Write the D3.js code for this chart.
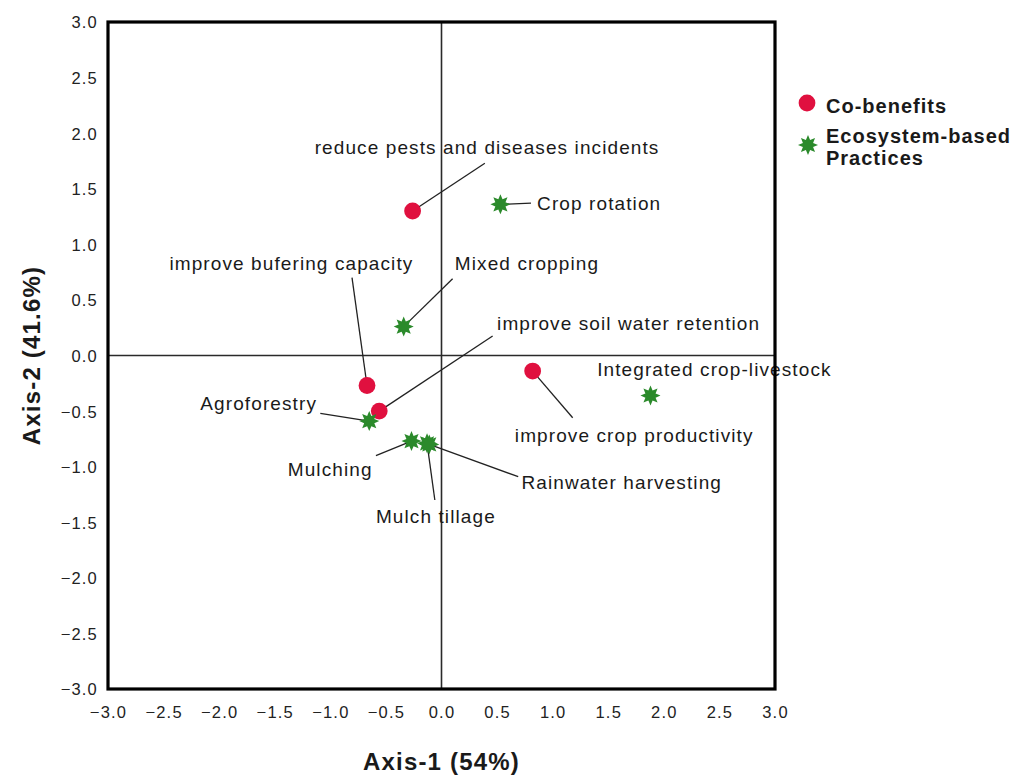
<!DOCTYPE html>
<html>
<head>
<meta charset="utf-8">
<script src="https://cdn.jsdelivr.net/npm/d3@7"></script>
<style>
  html, body { margin: 0; padding: 0; background: #fff; }
  svg { display: block; font-family: "Liberation Sans", Arial, sans-serif; }
  .tick-label { font-size: 16.5px; letter-spacing: 1.2px; fill: #222; }
  .pt-label { font-size: 19px; letter-spacing: 1.1px; fill: #1a1a1a; }
  .axis-title { font-size: 24px; font-weight: bold; letter-spacing: 1.2px; fill: #1a1a1a; }
  .legend-label { font-size: 20px; font-weight: bold; letter-spacing: 1px; fill: #1a1a1a; }
</style>
</head>
<body>
<svg id="chart" width="1015" height="776"></svg>
<script>
// Correspondence analysis: co-benefits vs ecosystem-based practices
const coBenefitNames = [
  "reduce pests and diseases incidents",
  "improve bufering capacity",
  "improve soil water retention",
  "improve crop productivity"
];
const coBenefitAxis1 = [-0.26, -0.67, -0.56, 0.82];
const coBenefitAxis2 = [1.30, -0.27, -0.50, -0.14];

const practiceNames = [
  "Crop rotation",
  "Mixed cropping",
  "Agroforestry",
  "Mulching",
  "Mulch tillage",
  "Rainwater harvesting",
  "Integrated crop-livestock"
];
const practiceAxis1 = [0.53, -0.34, -0.65, -0.27, -0.13, -0.11, 1.88];
const practiceAxis2 = [1.36, 0.26, -0.59, -0.77, -0.79, -0.80, -0.36];

const axisTicks = [-3.0, -2.5, -2.0, -1.5, -1.0, -0.5, 0.0, 0.5, 1.0, 1.5, 2.0, 2.5, 3.0];
const axis1Title = "Axis-1 (54%)";
const axis2Title = "Axis-2 (41.6%)";
const legendItems = ["Co-benefits", "Ecosystem-based\nPractices"];

// Label placement (in axis units): text position, anchor, and leader-line end
const labelLayout = {
  "reduce pests and diseases incidents": { lx: 0.41, ly: 1.81, anchor: "middle", ex: 0.39, ey: 1.73 },
  "improve bufering capacity":           { lx: -1.35, ly: 0.77, anchor: "middle", ex: -0.805, ey: 0.70 },
  "improve soil water retention":        { lx: 0.50, ly: 0.23, anchor: "start", ex: 0.46, ey: 0.175 },
  "improve crop productivity":           { lx: 0.66, ly: -0.78, anchor: "start", ex: 1.18, ey: -0.56 },
  "Crop rotation":                       { lx: 0.86, ly: 1.31, anchor: "start", ex: 0.805, ey: 1.37 },
  "Mixed cropping":                      { lx: 0.12, ly: 0.77, anchor: "start", ex: 0.10, ey: 0.69 },
  "Agroforestry":                        { lx: -1.12, ly: -0.49, anchor: "end", ex: -1.09, ey: -0.52 },
  "Mulching":                            { lx: -0.62, ly: -1.08, anchor: "end", ex: -0.59, ey: -0.90 },
  "Mulch tillage":                       { lx: -0.59, ly: -1.51, anchor: "start", ex: -0.06, ey: -1.30 },
  "Rainwater harvesting":                { lx: 0.72, ly: -1.20, anchor: "start", ex: 0.69, ey: -1.09 },
  "Integrated crop-livestock":           { lx: 1.40, ly: -0.18, anchor: "start", ex: null, ey: null }
};

const RED = "#e0103f";
const GREEN = "#2b8a2b";

const svg = d3.select("#chart");
const plot = { left: 108, right: 775, top: 22, bottom: 689 };

const x = d3.scaleLinear().domain([-3, 3]).range([plot.left, plot.right]);
const y = d3.scaleLinear().domain([-3, 3]).range([plot.bottom, plot.top]);

const coBenefits = coBenefitNames.map((n, i) => ({ name: n, a1: coBenefitAxis1[i], a2: coBenefitAxis2[i], group: 0 }));
const practices = practiceNames.map((n, i) => ({ name: n, a1: practiceAxis1[i], a2: practiceAxis2[i], group: 1 }));
const allPoints = coBenefits.concat(practices);

// Star burst marker path
function starPath(cx, cy, outer, inner, spikes) {
  const pts = [];
  for (let i = 0; i < spikes * 2; i++) {
    const r = i % 2 === 0 ? outer : inner;
    const a = Math.PI * i / spikes - Math.PI / 2;
    pts.push([cx + r * Math.cos(a), cy + r * Math.sin(a)]);
  }
  return d3.line()(pts) + "Z";
}

// Axes: labels only, no tick marks or domain lines
const xAxis = d3.axisBottom(x).tickValues(axisTicks).tickFormat(d3.format(".1f")).tickSize(0).tickPadding(0);
const yAxis = d3.axisLeft(y).tickValues(axisTicks).tickFormat(d3.format(".1f")).tickSize(0).tickPadding(0);

const gx = svg.append("g").attr("transform", `translate(0,${plot.bottom})`).call(xAxis);
gx.select(".domain").remove();
gx.selectAll("text").attr("class", "tick-label").attr("dy", null).attr("y", 29)
  .attr("font-family", null).attr("font-size", null).attr("fill", null);

const gy = svg.append("g").attr("transform", `translate(${plot.left - 10},0)`).call(yAxis);
gy.select(".domain").remove();
gy.selectAll("text").attr("class", "tick-label").attr("dy", "0.36em").attr("x", 0)
  .attr("font-family", null).attr("font-size", null).attr("fill", null);

// Zero reference lines
svg.append("line").attr("x1", x(0)).attr("x2", x(0)).attr("y1", plot.top).attr("y2", plot.bottom)
  .attr("stroke", "#2a2a2a").attr("stroke-width", 1.6);
svg.append("line").attr("x1", plot.left).attr("x2", plot.right).attr("y1", y(0)).attr("y2", y(0))
  .attr("stroke", "#2a2a2a").attr("stroke-width", 1.6);

// Leader lines
const leaders = allPoints.filter(d => labelLayout[d.name].ex !== null);
svg.append("g").selectAll("line").data(leaders).join("line")
  .attr("x1", d => x(d.a1)).attr("y1", d => y(d.a2))
  .attr("x2", d => x(labelLayout[d.name].ex)).attr("y2", d => y(labelLayout[d.name].ey))
  .attr("stroke", "#222").attr("stroke-width", 1.3);

// Markers
svg.append("g").selectAll("circle").data(coBenefits).join("circle")
  .attr("cx", d => x(d.a1)).attr("cy", d => y(d.a2)).attr("r", 8.4).attr("fill", RED);
svg.append("g").selectAll("path").data(practices).join("path")
  .attr("d", d => starPath(x(d.a1), y(d.a2), 10, 5.5, 8)).attr("fill", GREEN);

// Point labels
svg.append("g").selectAll("text").data(allPoints).join("text")
  .attr("class", "pt-label")
  .attr("x", d => x(labelLayout[d.name].lx)).attr("y", d => y(labelLayout[d.name].ly))
  .attr("text-anchor", d => labelLayout[d.name].anchor)
  .text(d => d.name);

// Plot frame (drawn on top)
svg.append("rect").attr("x", plot.left).attr("y", plot.top)
  .attr("width", plot.right - plot.left).attr("height", plot.bottom - plot.top)
  .attr("fill", "none").attr("stroke", "#000").attr("stroke-width", 3.2);

// Axis titles
svg.append("text").attr("class", "axis-title").attr("x", x(0)).attr("y", 770)
  .attr("text-anchor", "middle").text(axis1Title);
svg.append("text").attr("class", "axis-title")
  .attr("transform", `translate(40,${y(0)}) rotate(-90)`)
  .attr("text-anchor", "middle").text(axis2Title);

// Legend
const lg = svg.append("g");
lg.append("circle").attr("cx", 807).attr("cy", 103).attr("r", 8.4).attr("fill", RED);
lg.append("path").attr("d", starPath(808, 145, 10, 5.5, 8)).attr("fill", GREEN);
lg.append("text").attr("class", "legend-label").attr("x", 826).attr("y", 113).text(legendItems[0]);
const l2 = legendItems[1].split("\n");
lg.append("text").attr("class", "legend-label").attr("x", 826).attr("y", 143).text(l2[0]);
lg.append("text").attr("class", "legend-label").attr("x", 826).attr("y", 165).text(l2[1]);
</script>
</body>
</html>
